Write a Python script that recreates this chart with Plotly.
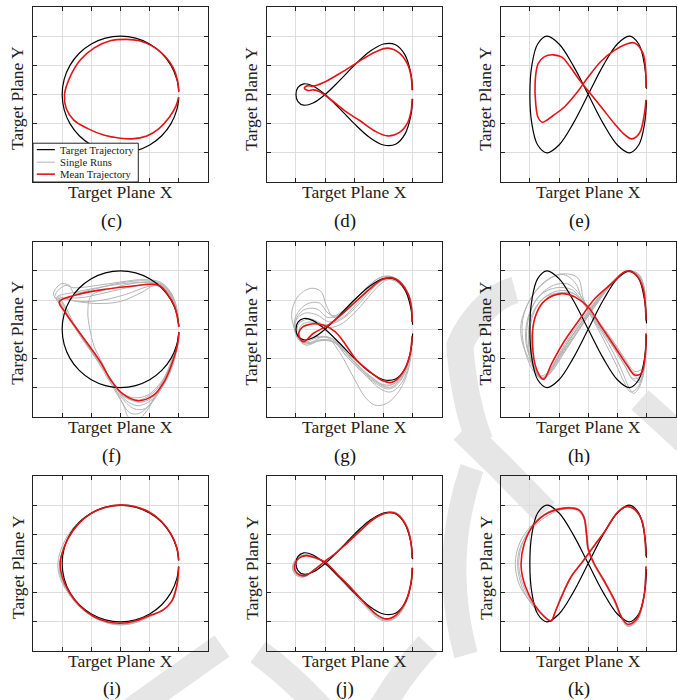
import plotly.graph_objects as go

# ---------------- data (axis units: grid step = 1) -------------
CIRCLE = [(2.0, 0.1), (1.932, 0.518), (1.732, 1.0), (1.414, 1.414), (1.0, 1.732), (0.518, 1.932),
          (0.0, 2.0), (-0.518, 1.932), (-1.0, 1.732), (-1.414, 1.414), (-1.732, 1.0), (-1.932, 0.518),
          (-2.0, 0.0), (-1.932, -0.518), (-1.732, -1.0), (-1.414, -1.414), (-1.0, -1.732),
          (-0.518, -1.932), (0.0, -2.0), (0.518, -1.932), (1.0, -1.732), (1.414, -1.414),
          (1.732, -1.0), (1.932, -0.518), (2.0, -0.1)]
FISH = [(2.0, 0.15), (1.932, 0.759), (1.732, 1.366), (1.414, 1.707), (1.0, 1.732), (0.518, 1.466),
        (0.0, 1.0), (-0.518, 0.466), (-1.0, 0.0), (-1.414, -0.293), (-1.732, -0.366), (-1.932, -0.241),
        (-2.0, 0.0), (-1.932, 0.241), (-1.732, 0.366), (-1.414, 0.293), (-1.0, 0.0), (-0.518, -0.466),
        (0.0, -1.0), (0.518, -1.466), (1.0, -1.732), (1.414, -1.707), (1.732, -1.366),
        (1.932, -0.759), (2.0, -0.15)]
EIGHT = [(2.0, 0.2), (1.932, 1.0), (1.732, 1.732), (1.414, 2.0), (1.0, 1.732), (0.518, 1.0),
         (0.0, 0.0), (-0.518, -1.0), (-1.0, -1.732), (-1.414, -2.0), (-1.732, -1.732), (-1.932, -1.0),
         (-2.0, 0.0), (-1.932, 1.0), (-1.732, 1.732), (-1.414, 2.0), (-1.0, 1.732), (-0.518, 1.0),
         (0.0, 0.0), (0.518, -1.0), (1.0, -1.732), (1.414, -2.0), (1.732, -1.732), (1.932, -1.0),
         (2.0, -0.2)]

C_MEAN = [(2.0, 0.1), (1.95, 0.5), (1.8, 0.93), (1.52, 1.32), (1.12, 1.64), (0.65, 1.84), (0.2, 1.89),
          (-0.35, 1.84), (-0.9, 1.6), (-1.38, 1.18), (-1.74, 0.58), (-1.92, 0.0), (-1.86, -0.48),
          (-1.6, -0.88), (-1.12, -1.17), (-0.55, -1.4), (0.0, -1.5), (0.4, -1.52), (0.9, -1.42),
          (1.32, -1.17), (1.66, -0.8), (1.9, -0.4), (1.99, -0.1)]
D_MEAN = [(1.98, 0.15), (1.95, 0.6), (1.82, 1.05), (1.55, 1.42), (1.15, 1.59), (0.7, 1.45),
          (0.3, 1.22), (0.0, 1.03), (-0.5, 0.72), (-1.07, 0.4), (-1.43, 0.28), (-1.6, 0.3),
          (-1.71, 0.22), (-1.6, 0.14), (-1.4, 0.16), (-1.2, 0.1), (-0.8, -0.18), (-0.3, -0.58),
          (0.2, -0.9), (0.7, -1.25), (1.15, -1.42), (1.55, -1.3), (1.82, -0.98), (1.95, -0.55),
          (1.98, -0.15)]
E_MEAN = [(1.98, 0.22), (1.97, 0.8), (1.88, 1.41), (1.59, 1.77), (1.3, 1.72), (0.91, 1.52),
          (0.45, 1.15), (0.0, 0.6), (-0.4, 0.05), (-0.8, -0.41), (-1.2, -0.72), (-1.57, -0.95),
          (-1.72, -0.78), (-1.8, -0.3), (-1.82, 0.4), (-1.72, 1.05), (-1.5, 1.3), (-1.2, 1.36),
          (-0.9, 1.28), (-0.62, 0.95), (-0.3, 0.5), (0.1, 0.0), (0.5, -0.5), (0.9, -1.0),
          (1.2, -1.33), (1.5, -1.52), (1.76, -1.32), (1.93, -0.64), (1.98, -0.18)]

F_MEAN = [(2.0, 0.08), (1.86, 0.77), (1.62, 1.2), (1.35, 1.48), (1.1, 1.54), (0.43, 1.48),
          (-0.72, 1.34), (-1.53, 1.17), (-2.1, 0.94), (-1.87, 0.54), (-1.6, 0.15), (-1.3, -0.26),
          (-0.72, -1.07), (-0.32, -1.76), (0.08, -2.22), (0.6, -2.45), (1.11, -2.28),
          (1.52, -1.76), (1.8, -1.07), (1.98, -0.38), (2.0, -0.1)]
F_RUN_1 = [(2.0, 0.08), (1.9, 0.8), (1.7, 1.3), (1.35, 1.62), (0.8, 1.7), (0.0, 1.62), (-0.8, 1.5),
           (-1.6, 1.42), (-1.9, 1.5), (-2.2, 1.25), (-2.25, 1.08), (-2.05, 1.0), (-1.85, 0.7),
           (-1.6, 0.2), (-1.1, -0.6), (-0.6, -1.3), (-0.2, -1.95), (0.2, -2.45), (0.6, -2.62),
           (1.1, -2.4), (1.5, -1.85), (1.8, -1.1), (1.97, -0.4), (2.0, -0.1)]
F_RUN_2 = [(2.0, 0.1), (1.88, 0.8), (1.6, 1.3), (1.2, 1.5), (0.7, 1.25), (0.0, 0.95), (-0.8, 0.88),
           (-1.5, 0.95), (-2.1, 1.05), (-2.0, 0.8), (-1.7, 0.3), (-1.2, -0.4), (-0.7, -1.1),
           (-0.3, -1.8), (0.1, -2.3), (0.55, -2.45), (1.1, -2.2), (1.5, -1.7), (1.8, -1.05),
           (1.97, -0.4), (2.0, -0.1)]
F_RUN_3 = [(2.0, 0.1), (1.88, 0.85), (1.62, 1.35), (1.2, 1.6), (0.5, 1.58), (-0.3, 1.4), (-1.0, 1.15),
           (-1.12, 0.6), (-1.05, 0.0), (-0.9, -0.6), (-0.6, -1.2), (-0.3, -1.9), (0.05, -2.5),
           (0.3, -2.85), (0.6, -2.9), (1.0, -2.6), (1.45, -1.95), (1.78, -1.15), (1.96, -0.45),
           (2.0, -0.1)]
F_RUN_4 = [(2.0, 0.1), (1.9, 0.85), (1.65, 1.35), (1.3, 1.6), (0.7, 1.66), (-0.2, 1.55), (-1.0, 1.35),
           (-1.6, 1.25), (-1.75, 1.5), (-2.05, 1.55), (-2.3, 1.2), (-2.1, 0.95), (-1.85, 0.5),
           (-1.4, -0.2), (-0.9, -0.9), (-0.5, -1.5), (-0.1, -2.05), (0.3, -2.4), (0.75, -2.5),
           (1.2, -2.25), (1.6, -1.7), (1.85, -1.05), (1.98, -0.4), (2.0, -0.1)]
F_RUN_5 = [(2.0, 0.1), (1.87, 0.8), (1.6, 1.32), (1.25, 1.55), (0.6, 1.5), (-0.3, 1.3), (-1.2, 1.1),
           (-2.05, 0.98), (-1.95, 0.65), (-1.55, 0.05), (-1.0, -0.7), (-0.55, -1.35), (-0.2, -2.0),
           (0.1, -2.6), (0.3, -3.05), (0.6, -3.1), (0.9, -2.8), (1.3, -2.1), (1.7, -1.2),
           (1.95, -0.45), (2.0, -0.1)]
F_RUN_6 = [(2.0, 0.1), (1.9, 0.8), (1.7, 1.25), (1.4, 1.5), (0.9, 1.45), (0.2, 1.2), (-0.6, 1.0),
           (-1.4, 0.95), (-2.15, 1.1), (-2.0, 0.9), (-1.75, 0.4), (-1.3, -0.3), (-0.8, -1.0),
           (-0.4, -1.6), (0.0, -2.15), (0.45, -2.35), (0.95, -2.25), (1.4, -1.8), (1.75, -1.15),
           (1.95, -0.45), (2.0, -0.1)]
F_RUN_7 = [(2.0, 0.1), (1.88, 0.82), (1.62, 1.3), (1.3, 1.55), (0.8, 1.6), (0.0, 1.55), (-0.8, 1.42),
           (-1.5, 1.28), (-2.2, 1.08), (-1.95, 0.7), (-1.65, 0.2), (-1.2, -0.5), (-0.75, -1.15),
           (-0.4, -1.75), (0.0, -2.3), (0.45, -2.72), (0.85, -2.72), (1.25, -2.2), (1.65, -1.5),
           (1.9, -0.8), (2.0, -0.1)]
F_RUNS = [F_RUN_1, F_RUN_2, F_RUN_3, F_RUN_4, F_RUN_5, F_RUN_6, F_RUN_7]

G_MEAN = [(1.98, 0.25), (1.96, 0.75), (1.85, 1.2), (1.6, 1.58), (1.3, 1.76), (0.95, 1.7), (0.5, 1.35),
          (0.0, 0.9), (-0.5, 0.45), (-0.89, 0.14), (-1.4, -0.14), (-1.74, -0.43), (-1.91, -0.2),
          (-1.8, 0.05), (-1.63, 0.14), (-1.23, 0.18), (-0.66, -0.08), (0.08, -1.06), (0.54, -1.46),
          (1.0, -1.78), (1.3, -1.82), (1.65, -1.5), (1.9, -0.9), (1.98, -0.25)]
G_RUN_1 = [(1.98, 0.25), (1.95, 0.8), (1.82, 1.25), (1.55, 1.6), (1.2, 1.8), (0.85, 1.75), (0.4, 1.4),
           (-0.2, 0.8), (-0.7, 0.4), (-0.95, 0.8), (-1.15, 1.3), (-1.5, 1.4), (-1.95, 1.1),
           (-2.15, 0.5), (-2.0, -0.1), (-1.8, -0.4), (-1.3, -0.25), (-0.9, -0.3), (-0.5, -0.8),
           (0.0, -1.7), (0.35, -2.3), (0.7, -2.6), (1.1, -2.55), (1.55, -2.1), (1.85, -1.4),
           (1.97, -0.6), (1.98, -0.25)]
G_RUN_2 = [(1.98, 0.25), (1.96, 0.78), (1.84, 1.22), (1.58, 1.6), (1.25, 1.78), (0.9, 1.72),
           (0.45, 1.35), (-0.1, 0.8), (-0.6, 0.45), (-0.9, 0.55), (-1.2, 0.9), (-1.65, 0.85),
           (-2.0, 0.45), (-2.05, 0.0), (-1.85, -0.4), (-1.5, -0.45), (-1.0, -0.25), (-0.5, -0.55),
           (0.1, -1.2), (0.6, -1.65), (1.1, -1.95), (1.5, -1.75), (1.85, -1.1), (1.98, -0.25)]
G_RUN_3 = [(1.98, 0.25), (1.95, 0.8), (1.82, 1.25), (1.5, 1.62), (1.1, 1.75), (0.7, 1.55), (0.2, 1.0),
           (-0.4, 0.4), (-0.85, 0.25), (-1.3, 0.5), (-1.7, 0.55), (-2.0, 0.3), (-2.0, -0.15),
           (-1.75, -0.45), (-1.3, -0.3), (-0.8, -0.3), (-0.3, -0.8), (0.3, -1.45), (0.8, -1.85),
           (1.2, -2.0), (1.6, -1.7), (1.88, -1.0), (1.98, -0.25)]
G_RUN_4 = [(1.98, 0.25), (1.95, 0.8), (1.8, 1.25), (1.5, 1.6), (1.15, 1.7), (0.8, 1.45), (0.4, 1.0),
           (0.0, 0.55), (-0.5, 0.15), (-1.0, 0.05), (-1.5, 0.25), (-1.85, 0.1), (-1.85, -0.3),
           (-1.55, -0.5), (-1.1, -0.35), (-0.6, -0.5), (0.0, -1.15), (0.5, -1.6), (1.0, -1.9),
           (1.4, -1.85), (1.75, -1.4), (1.95, -0.7), (1.98, -0.25)]
G_RUN_5 = [(1.98, 0.25), (1.96, 0.8), (1.83, 1.28), (1.6, 1.62), (1.3, 1.8), (0.95, 1.8), (0.5, 1.5),
           (0.0, 1.0), (-0.5, 0.55), (-0.9, 0.4), (-1.3, 0.7), (-1.75, 0.65), (-2.05, 0.2),
           (-1.95, -0.3), (-1.65, -0.55), (-1.2, -0.4), (-0.7, -0.45), (-0.2, -1.0), (0.35, -1.55),
           (0.9, -2.05), (1.25, -2.15), (1.65, -1.8), (1.9, -1.05), (1.98, -0.25)]
G_RUN_6 = [(1.98, 0.25), (1.95, 0.75), (1.8, 1.2), (1.55, 1.55), (1.2, 1.72), (0.85, 1.6), (0.45, 1.2),
           (0.0, 0.7), (-0.5, 0.3), (-1.0, 0.15), (-1.5, 0.35), (-1.9, 0.2), (-1.95, -0.2),
           (-1.7, -0.5), (-1.25, -0.4), (-0.75, -0.4), (-0.25, -0.95), (0.3, -1.5), (0.8, -1.9),
           (1.2, -2.05), (1.6, -1.75), (1.88, -1.05), (1.98, -0.25)]
G_RUNS = [G_RUN_1, G_RUN_2, G_RUN_3, G_RUN_4, G_RUN_5, G_RUN_6]

H_MEAN = [(1.98, 0.31), (1.88, 1.4), (1.65, 1.85), (1.31, 1.99), (0.8, 1.56), (0.23, 1.05),
          (-0.28, 0.36), (-0.8, -0.38), (-1.25, -1.17), (-1.53, -1.72), (-1.76, -1.4),
          (-1.91, -0.49), (-1.82, 0.42), (-1.48, 0.99), (-0.91, 1.22), (-0.45, 1.1), (0.0, 0.76),
          (0.45, 0.08), (0.91, -0.6), (1.36, -1.28), (1.59, -1.57), (1.82, -1.51), (1.95, -0.94),
          (1.98, -0.15)]
H_RUN_1 = [(1.98, 0.3), (1.9, 1.45), (1.65, 1.9), (1.3, 1.98), (0.9, 1.7), (0.4, 1.15), (-0.1, 0.5),
           (-0.6, -0.2), (-1.0, -0.85), (-1.35, -1.45), (-1.6, -1.7), (-1.85, -1.35), (-2.25, -0.5),
           (-2.3, 0.2), (-2.0, 1.0), (-1.5, 1.6), (-0.9, 1.88), (-0.45, 1.6), (-0.2, 1.0),
           (0.2, 0.3), (0.7, -0.5), (1.1, -1.3), (1.4, -2.0), (1.55, -2.2), (1.75, -2.0),
           (1.95, -1.1), (1.98, -0.15)]
H_RUN_2 = [(1.98, 0.3), (1.9, 1.4), (1.7, 1.88), (1.35, 1.98), (1.0, 1.75), (0.5, 1.2), (0.0, 0.5),
           (-0.5, -0.25), (-0.95, -0.9), (-1.3, -1.45), (-1.58, -1.65), (-1.85, -1.3), (-2.1, -0.5),
           (-2.05, 0.35), (-1.75, 1.05), (-1.2, 1.5), (-0.7, 1.55), (-0.3, 1.2), (0.0, 0.7),
           (0.4, 0.05), (0.85, -0.6), (1.25, -1.25), (1.55, -1.7), (1.8, -1.6), (1.95, -0.9),
           (1.98, -0.15)]
H_RUN_3 = [(1.98, 0.3), (1.92, 1.45), (1.72, 1.9), (1.4, 1.99), (1.05, 1.8), (0.6, 1.3), (0.1, 0.6),
           (-0.4, -0.15), (-0.85, -0.85), (-1.25, -1.45), (-1.55, -1.7), (-1.8, -1.45),
           (-1.95, -0.6), (-1.85, 0.3), (-1.5, 0.95), (-1.0, 1.22), (-0.5, 1.15), (-0.15, 0.85),
           (0.3, 0.3), (0.8, -0.35), (1.25, -1.0), (1.6, -1.45), (1.85, -1.35), (1.96, -0.8),
           (1.98, -0.15)]
H_RUN_4 = [(1.98, 0.3), (1.9, 1.4), (1.68, 1.85), (1.3, 1.97), (0.95, 1.75), (0.45, 1.2), (-0.05, 0.5),
           (-0.55, -0.25), (-1.0, -0.9), (-1.35, -1.5), (-1.62, -1.68), (-1.9, -1.3), (-2.05, -0.4),
           (-1.95, 0.45), (-1.55, 1.05), (-1.0, 1.25), (-0.45, 1.2), (-0.15, 0.9), (0.25, 0.4),
           (0.75, -0.25), (1.2, -0.95), (1.55, -1.55), (1.78, -1.75), (1.93, -1.1), (1.98, -0.15)]
H_RUN_5 = [(1.98, 0.3), (1.9, 1.35), (1.65, 1.85), (1.25, 1.96), (0.85, 1.65), (0.35, 1.05),
           (-0.15, 0.35), (-0.65, -0.35), (-1.05, -1.0), (-1.4, -1.5), (-1.65, -1.6), (-1.95, -1.1),
           (-2.15, -0.3), (-2.0, 0.6), (-1.6, 1.2), (-1.1, 1.42), (-0.55, 1.35), (-0.2, 0.95),
           (0.15, 0.35), (0.55, -0.4), (0.95, -1.2), (1.25, -1.85), (1.45, -2.15), (1.7, -2.0),
           (1.92, -1.2), (1.98, -0.15)]
H_RUN_6 = [(1.98, 0.3), (1.91, 1.42), (1.7, 1.9), (1.35, 1.98), (0.95, 1.72), (0.5, 1.15), (0.0, 0.45),
           (-0.5, -0.3), (-0.95, -0.95), (-1.3, -1.5), (-1.6, -1.66), (-1.88, -1.2), (-2.0, -0.45),
           (-1.92, 0.4), (-1.6, 1.0), (-1.1, 1.3), (-0.6, 1.28), (-0.2, 0.95), (0.2, 0.4),
           (0.65, -0.2), (1.1, -0.85), (1.5, -1.45), (1.8, -1.55), (1.95, -0.9), (1.98, -0.15)]
H_RUN_7 = [(1.98, 0.3), (1.9, 1.4), (1.68, 1.88), (1.3, 1.97), (0.9, 1.7), (0.4, 1.1), (-0.1, 0.4),
           (-0.6, -0.3), (-1.0, -0.95), (-1.35, -1.5), (-1.6, -1.7), (-1.9, -1.4), (-2.2, -0.6),
           (-2.25, 0.3), (-1.95, 1.1), (-1.4, 1.7), (-0.85, 1.9), (-0.35, 1.75), (-0.15, 1.0),
           (0.25, 0.3), (0.75, -0.45), (1.2, -1.15), (1.55, -1.75), (1.8, -1.8), (1.95, -1.0),
           (1.98, -0.15)]
H_RUNS = [H_RUN_1, H_RUN_2, H_RUN_3, H_RUN_4, H_RUN_5, H_RUN_6, H_RUN_7]

I_MEAN = [(1.99, 0.12), (1.93, 0.55), (1.72, 1.03), (1.4, 1.45), (0.95, 1.78), (0.45, 1.96), (0.0, 2.0),
          (-0.5, 1.93), (-1.0, 1.72), (-1.45, 1.35), (-1.8, 0.85), (-2.0, 0.35), (-2.07, 0.0),
          (-2.0, -0.45), (-1.78, -0.95), (-1.4, -1.45), (-0.95, -1.8), (-0.45, -2.0), (0.0, -2.05),
          (0.5, -1.97), (1.0, -1.78), (1.45, -1.6), (1.75, -1.3), (1.92, -0.8), (1.98, -0.4),
          (1.99, -0.12)]
I_RUN_1 = [(1.99, 0.12), (1.93, 0.56), (1.72, 1.04), (1.4, 1.46), (0.95, 1.8), (0.45, 1.97), (0.0, 2.0),
           (-0.5, 1.92), (-1.05, 1.7), (-1.55, 1.3), (-1.95, 0.7), (-2.15, 0.0), (-2.05, -0.55),
           (-1.8, -1.0), (-1.4, -1.5), (-0.9, -1.85), (-0.4, -2.05), (0.05, -2.1), (0.5, -2.02),
           (1.0, -1.82), (1.45, -1.62), (1.77, -1.3), (1.93, -0.8), (1.99, -0.12)]
I_RUN_2 = [(1.99, 0.12), (1.92, 0.55), (1.7, 1.02), (1.38, 1.44), (0.92, 1.76), (0.42, 1.94),
           (-0.05, 1.98), (-0.55, 1.9), (-1.05, 1.68), (-1.5, 1.3), (-1.85, 0.78), (-2.05, 0.2),
           (-2.05, -0.35), (-1.85, -0.9), (-1.45, -1.42), (-0.95, -1.82), (-0.45, -2.02),
           (0.0, -2.08), (0.5, -2.0), (1.0, -1.8), (1.42, -1.62), (1.74, -1.32), (1.92, -0.82),
           (1.99, -0.12)]
I_RUN_3 = [(1.99, 0.12), (1.93, 0.54), (1.73, 1.0), (1.42, 1.43), (0.98, 1.77), (0.48, 1.95), (0.0, 1.99),
           (-0.48, 1.93), (-0.98, 1.73), (-1.42, 1.38), (-1.78, 0.9), (-2.02, 0.3), (-2.1, -0.2),
           (-1.95, -0.7), (-1.68, -1.15), (-1.3, -1.55), (-0.85, -1.88), (-0.35, -2.06), (0.1, -2.1),
           (0.55, -2.02), (1.05, -1.8), (1.48, -1.58), (1.78, -1.25), (1.94, -0.75), (1.99, -0.12)]
I_RUNS = [I_RUN_1, I_RUN_2, I_RUN_3]

J_MEAN = [(1.98, 0.18), (1.93, 0.8), (1.75, 1.35), (1.45, 1.7), (1.15, 1.74), (0.7, 1.55), (0.2, 1.12),
          (-0.3, 0.65), (-0.7, 0.3), (-1.0, 0.08), (-1.35, -0.2), (-1.7, -0.42), (-1.95, -0.35),
          (-2.05, -0.1), (-1.9, 0.18), (-1.65, 0.27), (-1.35, 0.2), (-1.0, 0.05), (-0.6, -0.35),
          (-0.1, -0.85), (0.4, -1.4), (0.8, -1.78), (1.1, -1.9), (1.45, -1.75), (1.8, -1.2),
          (1.96, -0.55), (1.98, -0.15)]
J_RUN_1 = [(1.98, 0.18), (1.94, 0.8), (1.77, 1.36), (1.47, 1.72), (1.15, 1.77), (0.7, 1.58), (0.2, 1.15),
           (-0.3, 0.68), (-0.7, 0.32), (-1.0, 0.1), (-1.35, -0.2), (-1.72, -0.45), (-2.0, -0.35),
           (-2.1, -0.1), (-1.95, 0.2), (-1.65, 0.3), (-1.35, 0.22), (-1.0, 0.05), (-0.6, -0.37),
           (-0.1, -0.9), (0.4, -1.45), (0.8, -1.83), (1.1, -1.95), (1.47, -1.8), (1.81, -1.23),
           (1.96, -0.55), (1.98, -0.15)]
J_RUN_2 = [(1.98, 0.18), (1.93, 0.78), (1.74, 1.33), (1.44, 1.68), (1.13, 1.72), (0.68, 1.52),
           (0.18, 1.08), (-0.32, 0.62), (-0.72, 0.28), (-1.02, 0.06), (-1.38, -0.22), (-1.75, -0.47),
           (-2.02, -0.38), (-2.12, -0.12), (-1.97, 0.17), (-1.68, 0.27), (-1.37, 0.19), (-1.02, 0.02),
           (-0.62, -0.4), (-0.12, -0.93), (0.38, -1.48), (0.78, -1.86), (1.1, -1.98), (1.48, -1.82),
           (1.82, -1.25), (1.96, -0.56), (1.98, -0.15)]
J_RUN_3 = [(1.98, 0.18), (1.93, 0.82), (1.76, 1.38), (1.46, 1.73), (1.16, 1.76), (0.72, 1.57),
           (0.22, 1.14), (-0.28, 0.67), (-0.68, 0.31), (-0.98, 0.09), (-1.32, -0.16), (-1.68, -0.4),
           (-1.95, -0.32), (-2.06, -0.08), (-1.92, 0.2), (-1.64, 0.29), (-1.33, 0.21), (-0.98, 0.04),
           (-0.58, -0.36), (-0.08, -0.87), (0.42, -1.42), (0.82, -1.8), (1.12, -1.92), (1.46, -1.77),
           (1.8, -1.2), (1.96, -0.54), (1.98, -0.15)]
J_RUNS = [J_RUN_1, J_RUN_2, J_RUN_3]

K_MEAN = [(1.98, 0.25), (1.94, 0.9), (1.85, 1.45), (1.6, 1.85), (1.31, 1.95), (1.0, 1.75), (0.57, 1.1),
          (0.2, 0.6), (-0.2, 0.05), (-0.57, -0.43), (-0.9, -1.1), (-1.14, -1.68), (-1.27, -1.97),
          (-1.5, -1.82), (-1.85, -1.4), (-2.15, -0.8), (-2.3, -0.1), (-2.2, 0.65), (-1.85, 1.35),
          (-1.35, 1.75), (-0.8, 1.9), (-0.35, 1.85), (-0.15, 1.6), (-0.06, 1.05), (0.0, 0.5),
          (0.2, 0.0), (0.55, -0.6), (0.9, -1.25), (1.15, -1.85), (1.35, -2.08), (1.65, -1.92),
          (1.9, -1.2), (1.98, -0.1)]
K_RUN_1 = [(1.98, 0.25), (1.94, 0.9), (1.85, 1.47), (1.6, 1.87), (1.3, 1.97), (0.98, 1.75), (0.55, 1.1),
           (0.18, 0.6), (-0.22, 0.05), (-0.6, -0.45), (-0.92, -1.1), (-1.15, -1.7), (-1.27, -1.98),
           (-1.52, -1.83), (-1.95, -1.35), (-2.35, -0.75), (-2.5, 0.0), (-2.35, 0.7), (-1.95, 1.3),
           (-1.4, 1.75), (-0.8, 1.92), (-0.3, 1.85), (-0.12, 1.55), (-0.04, 1.0), (0.02, 0.5),
           (0.22, 0.0), (0.57, -0.6), (0.92, -1.27), (1.17, -1.9), (1.37, -2.14), (1.67, -1.97),
           (1.91, -1.2), (1.98, -0.1)]
K_RUN_2 = [(1.98, 0.25), (1.95, 0.9), (1.86, 1.44), (1.62, 1.84), (1.33, 1.95), (1.02, 1.77),
           (0.6, 1.12), (0.22, 0.62), (-0.18, 0.07), (-0.55, -0.42), (-0.88, -1.08), (-1.12, -1.66),
           (-1.25, -1.96), (-1.48, -1.84), (-1.9, -1.45), (-2.25, -0.85), (-2.42, -0.1),
           (-2.35, 0.5), (-2.05, 1.05), (-1.6, 1.5), (-1.0, 1.82), (-0.45, 1.85), (-0.18, 1.6),
           (-0.08, 1.05), (-0.02, 0.5), (0.18, -0.02), (0.53, -0.62), (0.88, -1.28), (1.14, -1.9),
           (1.35, -2.16), (1.66, -2.0), (1.9, -1.22), (1.98, -0.1)]
K_RUN_3 = [(1.98, 0.25), (1.94, 0.88), (1.84, 1.44), (1.58, 1.84), (1.29, 1.94), (0.98, 1.73),
           (0.56, 1.08), (0.19, 0.58), (-0.21, 0.03), (-0.58, -0.45), (-0.91, -1.12), (-1.15, -1.7),
           (-1.28, -1.98), (-1.5, -1.84), (-1.88, -1.42), (-2.2, -0.82), (-2.38, -0.1), (-2.28, 0.62),
           (-1.9, 1.32), (-1.38, 1.76), (-0.82, 1.9), (-0.36, 1.86), (-0.16, 1.6), (-0.07, 1.05),
           (0.0, 0.5), (0.2, 0.0), (0.55, -0.62), (0.9, -1.28), (1.15, -1.9), (1.36, -2.12),
           (1.66, -1.96), (1.9, -1.22), (1.98, -0.1)]
K_RUNS = [K_RUN_1, K_RUN_2, K_RUN_3]

PANEL_LABELS = ["(c)", "(d)", "(e)", "(f)", "(g)", "(h)", "(i)", "(j)", "(k)"]
TARGETS = [CIRCLE, FISH, EIGHT, CIRCLE, FISH, EIGHT, CIRCLE, FISH, EIGHT]
MEANS = [C_MEAN, D_MEAN, E_MEAN, F_MEAN, G_MEAN, H_MEAN, I_MEAN, J_MEAN, K_MEAN]
RUNS = [[], [], [], F_RUNS, G_RUNS, H_RUNS, I_RUNS, J_RUNS, K_RUNS]
GRID_TICKS = [-2, -1, 0, 1, 2]
LEGEND_NAMES = ["Target Trajectory", "Single Runs", "Mean Trajectory"]
X_TITLE = "Target Plane X"
Y_TITLE = "Target Plane Y"

# ---------------- layout constants (pixels) ----------------
W, H = 677, 700
COL_X0 = [33.0, 266.8, 500.7]
ROW_Y0 = [7.0, 241.7, 476.0]
SIZE = 175.0
SERIF = "Liberation Serif"
BLACK = "#000000"
RED = "rgb(232,18,22)"
GRAY = "rgb(180,180,180)"
WATERMARK = "rgb(230,230,230)"


def px(x):
    return x / W


def py(y):
    return 1 - y / H


def pt(p):
    return "{:.4f} {:.4f}".format(px(p[0]), py(p[1]))


fig = go.Figure()
annotations = []
shapes = []

# faint background watermark strokes (mostly hidden behind the opaque plot areas)
d_ring = "M " + pt((515, 290)) + " C " + pt((478, 300)) + " " + pt((460, 345)) + " " + pt((460, 345)) + \
         " S " + pt((462, 398)) + " " + pt((480, 442))
wm_paths = [
    (d_ring, 27),
    ("M " + pt((463, 430)) + " L " + pt((500, 466)) + " L " + pt((545, 512)), 27),
    ("M " + pt((472, 468)) + " Q " + pt((440, 560)) + " " + pt((466, 655)), 24),
    ("M " + pt((222, 646)) + " Q " + pt((185, 672)) + " " + pt((132, 710)), 26),
    ("M " + pt((258, 652)) + " Q " + pt((290, 675)) + " " + pt((322, 710)), 26),
    ("M " + pt((428, 645)) + " Q " + pt((402, 672)) + " " + pt((380, 710)), 26),
    ("M " + pt((640, 400)) + " Q " + pt((665, 422)) + " " + pt((692, 448)), 26),
]
for d, wd in wm_paths:
    shapes.append(dict(type="path", path=d, xref="paper", yref="paper",
                       line=dict(color=WATERMARK, width=wd), layer="below"))

for i in range(9):
    r, c = divmod(i, 3)
    x0, y0 = COL_X0[c], ROW_Y0[r]
    sfx = "" if i == 0 else str(i + 1)
    xa, ya = "x" + sfx, "y" + sfx
    for run in RUNS[i]:
        fig.add_trace(go.Scatter(x=[p[0] for p in run], y=[p[1] for p in run], mode="lines",
                                 line=dict(color=GRAY, width=1.0, shape="spline", smoothing=1.0),
                                 xaxis=xa, yaxis=ya, showlegend=False, hoverinfo="skip"))
    tgt = TARGETS[i]
    fig.add_trace(go.Scatter(x=[p[0] for p in tgt], y=[p[1] for p in tgt], mode="lines",
                             line=dict(color=BLACK, width=1.2, shape="spline", smoothing=1.0),
                             xaxis=xa, yaxis=ya, showlegend=False, hoverinfo="skip"))
    mean = MEANS[i]
    fig.add_trace(go.Scatter(x=[p[0] for p in mean], y=[p[1] for p in mean], mode="lines",
                             line=dict(color=RED, width=1.6, shape="spline", smoothing=1.0),
                             xaxis=xa, yaxis=ya, showlegend=False, hoverinfo="skip"))
    axis_common = dict(range=[-3, 3], tickvals=GRID_TICKS, showticklabels=False, ticks="inside",
                       ticklen=4, tickcolor="#222", tickwidth=1, showgrid=True, gridcolor="#dedede",
                       gridwidth=1, zeroline=False, showline=True, linecolor="#222", linewidth=1,
                       mirror="allticks", fixedrange=True)
    fig.layout["xaxis" + sfx] = dict(axis_common, domain=[px(x0), px(x0 + SIZE)], anchor=ya)
    fig.layout["yaxis" + sfx] = dict(axis_common, domain=[py(y0 + SIZE), py(y0)], anchor=xa)

    cx = x0 + SIZE / 2
    annotations.append(dict(text=X_TITLE, x=px(cx), y=py(y0 + SIZE + 9.8), xref="paper", yref="paper",
                            xanchor="center", yanchor="middle", showarrow=False,
                            font=dict(family=SERIF, size=17.5, color="#222")))
    annotations.append(dict(text=Y_TITLE, x=px(x0 - 15.5), y=py(y0 + SIZE / 2 + 4), xref="paper",
                            yref="paper", xanchor="center", yanchor="middle", textangle=-90,
                            showarrow=False, font=dict(family=SERIF, size=17.5, color="#222")))
    annotations.append(dict(text=PANEL_LABELS[i], x=px(cx - 9), y=py([221, 455.5, 689][r]),
                            xref="paper", yref="paper", xanchor="center", yanchor="middle",
                            showarrow=False, font=dict(family=SERIF, size=19, color="#111")))

# manual legend inside panel (c)
shapes.append(dict(type="rect", xref="x", yref="y", x0=-3, x1=0.61, y0=-3, y1=-1.67,
                   fillcolor="white", line=dict(color="#222", width=1), layer="above"))
for k, (nm, col, wd) in enumerate(zip(LEGEND_NAMES, [BLACK, GRAY, RED], [1.2, 1.0, 1.6])):
    yy = [-1.89, -2.32, -2.73][k]
    shapes.append(dict(type="line", xref="x", yref="y", x0=-2.87, x1=-2.25, y0=yy, y1=yy,
                       line=dict(color=col, width=wd), layer="above"))
    annotations.append(dict(text=nm, x=-2.14, y=yy, xref="x", yref="y", xanchor="left",
                            yanchor="middle", showarrow=False,
                            font=dict(family=SERIF, size=10.7, color="#222")))

fig.update_layout(width=W, height=H, autosize=False, margin=dict(l=0, r=0, t=0, b=0),
                  paper_bgcolor="white", plot_bgcolor="white", showlegend=False,
                  font=dict(family=SERIF), annotations=annotations, shapes=shapes)

fig.write_html("out.html", config={"displayModeBar": False},
               post_script="document.body.style.margin='0px';")
